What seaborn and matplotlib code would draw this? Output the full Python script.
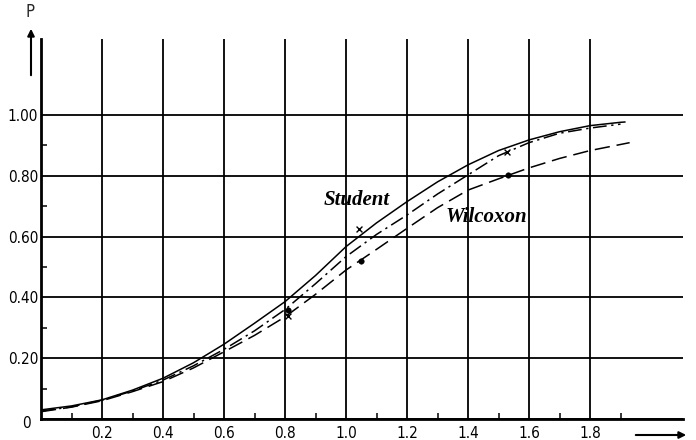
import matplotlib
matplotlib.use("Agg")
import matplotlib.pyplot as plt
import matplotlib.transforms as mtransforms
import pandas as pd
import seaborn as sns
from matplotlib.ticker import FixedLocator

# Power curves P against the shift, read at steps of 0.1
x_student = [0.0, 0.1, 0.2, 0.3, 0.4, 0.5, 0.6, 0.7, 0.8, 0.9, 1.0,
             1.1, 1.2, 1.3, 1.4, 1.5, 1.6, 1.7, 1.8, 1.9, 1.915]
p_student = [0.030, 0.043, 0.063, 0.095, 0.134, 0.185, 0.246, 0.315, 0.386, 0.472, 0.567,
             0.645, 0.715, 0.780, 0.836, 0.883, 0.918, 0.945, 0.965, 0.976, 0.977]

x_mixed = [0.0, 0.1, 0.2, 0.3, 0.4, 0.5, 0.6, 0.7, 0.8, 0.9, 1.0,
           1.1, 1.2, 1.3, 1.4, 1.5, 1.6, 1.7, 1.8, 1.9]
p_mixed = [0.026, 0.040, 0.062, 0.092, 0.128, 0.175, 0.229, 0.290, 0.360, 0.445, 0.534,
           0.607, 0.671, 0.740, 0.803, 0.866, 0.909, 0.940, 0.957, 0.970]

x_wilcoxon = [0.0, 0.1, 0.2, 0.3, 0.4, 0.5, 0.6, 0.7, 0.8, 0.9, 1.0,
              1.1, 1.2, 1.3, 1.4, 1.5, 1.6, 1.7, 1.8, 1.9, 1.93]
p_wilcoxon = [0.024, 0.039, 0.060, 0.090, 0.123, 0.168, 0.221, 0.275, 0.336, 0.410, 0.490,
              0.558, 0.627, 0.695, 0.753, 0.790, 0.826, 0.857, 0.883, 0.903, 0.909]

# Observed points
obs_x_student = [0.81, 1.044, 1.529]
obs_p_student = [0.340, 0.625, 0.879]
obs_x_wilcoxon = [0.81, 1.049, 1.532]
obs_p_wilcoxon = [0.359, 0.520, 0.803]

x_ticks = [0.2, 0.4, 0.6, 0.8, 1.0, 1.2, 1.4, 1.6, 1.8]
x_tick_labels = ["0.2", "0.4", "0.6", "0.8", "1.0", "1.2", "1.4", "1.6", "1.8"]
y_ticks = [0.0, 0.2, 0.4, 0.6, 0.8, 1.0]
y_tick_labels = ["0", "0.20", "0.40", "0.60", "0.80", "1.00"]

curves = pd.concat([
    pd.DataFrame({"shift": x_student, "P": p_student, "curve": "student"}),
    pd.DataFrame({"shift": x_mixed, "P": p_mixed, "curve": "mixed"}),
    pd.DataFrame({"shift": x_wilcoxon, "P": p_wilcoxon, "curve": "wilcoxon"}),
], ignore_index=True)

sns.set_style("white")
plt.rcParams["font.family"] = ["DejaVu Sans"]
plt.rcParams["font.stretch"] = "condensed"

W, H = 696, 440
fig = plt.figure(figsize=(W / 100, H / 100), dpi=100)
ax = fig.add_axes([41 / W, 21 / H, 642 / W, 380 / H])

sns.lineplot(data=curves, x="shift", y="P", style="curve", units="curve",
             estimator=None, sort=False, color="black", linewidth=1.1,
             dashes={"student": "", "mixed": (9, 3, 1.5, 3), "wilcoxon": (10, 4.5)},
             legend=False, ax=ax)

sns.scatterplot(x=obs_x_student, y=obs_p_student, marker="x", s=18,
                color="black", linewidth=1.0, ax=ax, zorder=5)
sns.scatterplot(x=obs_x_wilcoxon, y=obs_p_wilcoxon, marker="o", s=16,
                color="black", edgecolor="black", ax=ax, zorder=5)

ax.set_xlim(0, 642 / 305)
ax.set_ylim(0, 380 / 304)

ax.xaxis.set_major_locator(FixedLocator(x_ticks))
ax.set_xticklabels(x_tick_labels)
ax.yaxis.set_major_locator(FixedLocator(y_ticks))
ax.set_yticklabels(y_tick_labels)
ax.xaxis.set_minor_locator(FixedLocator([0.1, 0.3, 0.5, 0.7, 0.9, 1.1, 1.3, 1.5, 1.7, 1.9]))
ax.yaxis.set_minor_locator(FixedLocator([0.1, 0.3, 0.5, 0.7, 0.9]))

ax.tick_params(which="both", bottom=True, left=True, top=False, right=False)
ax.tick_params(which="major", length=0, labelsize=11, colors="black")
ax.tick_params(axis="x", which="major", pad=5)
ax.tick_params(axis="y", which="major", pad=2)
ax.tick_params(which="minor", direction="in", length=4.5, width=1.1, color="black")

# The origin label sits a little left of and below the others
zero_label = ax.get_yticklabels()[0]
zero_label.set_transform(zero_label.get_transform() +
                         mtransforms.ScaledTranslation(-7 / 100, -3 / 100, fig.dpi_scale_trans))

ax.grid(True, which="major", color="black", linewidth=1.3)
ax.set_axisbelow(True)

for side in ("top", "right"):
    ax.spines[side].set_visible(False)
for side in ("left", "bottom"):
    ax.spines[side].set_color("black")
    ax.spines[side].set_linewidth(2.0)
ax.set_xlabel("")
ax.set_ylabel("")

# Curve labels
label_font = dict(family=["Liberation Serif", "DejaVu Serif"], style="italic",
                  weight="bold", stretch="normal", fontsize=15, color="black",
                  ha="center", va="center")
ax.text(1.035, 0.72, "Student", **label_font)
ax.text(1.461, 0.665, "Wilcoxon", **label_font)

# Axis arrows and the P symbol
fig.text(30 / W, 1 - 12 / H, "P", fontsize=12, ha="center", va="center")
fig.add_artist(matplotlib.patches.FancyArrowPatch(
    (31 / W, 1 - 78 / H), (31 / W, 1 - 26 / H), transform=fig.transFigure,
    arrowstyle="-|>", mutation_scale=10, linewidth=1.5, color="black"))
fig.add_artist(matplotlib.patches.FancyArrowPatch(
    (633 / W, 1 - 435 / H), (689 / W, 1 - 435 / H), transform=fig.transFigure,
    arrowstyle="-|>", mutation_scale=10, linewidth=1.5, color="black"))

fig.savefig("out.png", dpi=100, facecolor="white")
